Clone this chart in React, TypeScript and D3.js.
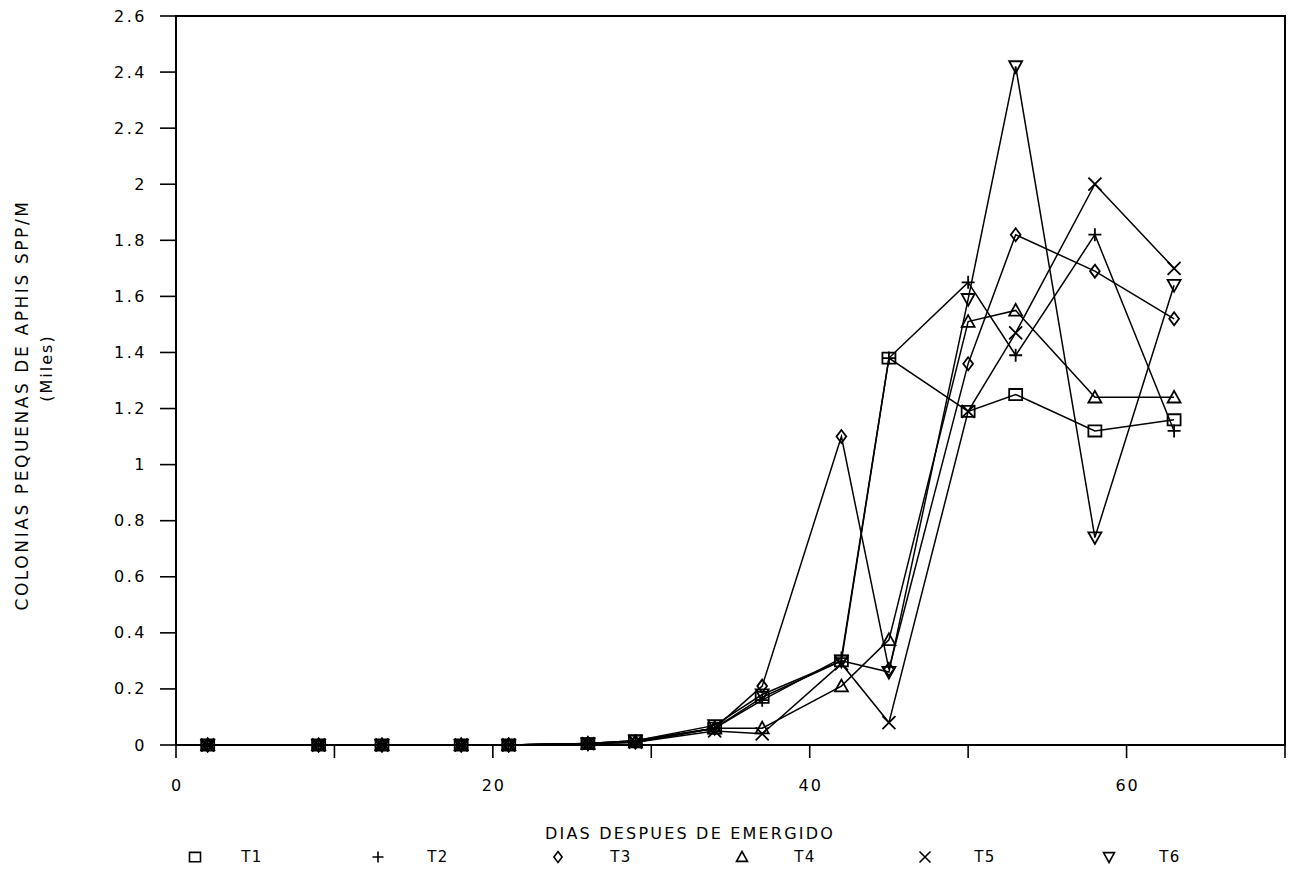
import React from "react";
import * as d3 from "d3";

const days = [2, 9, 13, 18, 21, 26, 29, 34, 37, 42, 45, 50, 53, 58, 63];
const t1 = [0, 0, 0, 0, 0, 0.005, 0.015, 0.06, 0.17, 0.30, 1.38, 1.19, 1.25, 1.12, 1.16];
const t2 = [0, 0, 0, 0, 0, 0.005, 0.015, 0.06, 0.16, 0.31, 1.38, 1.65, 1.39, 1.82, 1.12];
const t3 = [0, 0, 0, 0, 0, 0.005, 0.01, 0.06, 0.21, 1.10, 0.27, 1.36, 1.82, 1.69, 1.52];
const t4 = [0, 0, 0, 0, 0, 0.005, 0.01, 0.06, 0.06, 0.21, 0.375, 1.51, 1.55, 1.24, 1.24];
const t5 = [0, 0, 0, 0, 0, 0.005, 0.01, 0.05, 0.04, 0.29, 0.08, 1.19, 1.47, 2.0, 1.70];
const t6 = [0, 0, 0, 0, 0, 0.005, 0.015, 0.07, 0.18, 0.30, 0.26, 1.59, 2.42, 0.74, 1.64];

const seriesNames = ["T1", "T2", "T3", "T4", "T5", "T6"];
const seriesValues = [t1, t2, t3, t4, t5, t6];
const markerKinds = ["square", "plus", "diamond", "triangle", "cross", "triangleDown"];

const yTicks = [0, 0.2, 0.4, 0.6, 0.8, 1, 1.2, 1.4, 1.6, 1.8, 2, 2.2, 2.4, 2.6];
const yTickLabels = ["0", "0.2", "0.4", "0.6", "0.8", "1", "1.2", "1.4", "1.6", "1.8", "2", "2.2", "2.4", "2.6"];
const xTicks = [0, 10, 20, 30, 40, 50, 60, 70];
const xTickLabels = ["0", "", "20", "", "40", "", "60", ""];

const xTitle = "DIAS DESPUES DE EMERGIDO";
const yTitle = "COLONIAS PEQUENAS DE APHIS SPP/M";
const yTitle2 = "(Miles)";

const FONT = "'DejaVu Sans', sans-serif";

function markerPath(kind: string, s: number): string {
  const h = s / 2;
  switch (kind) {
    case "square":
      return `M${-h},${-h * 0.85}H${h}V${h * 0.85}H${-h}Z`;
    case "plus":
      return `M${-h},0H${h}M0,${-h}V${h}`;
    case "diamond":
      return `M0,${-h}L${h * 0.75},0L0,${h}L${-h * 0.75},0Z`;
    case "triangle":
      return `M0,${-h}L${h},${h * 0.8}L${-h},${h * 0.8}Z`;
    case "cross":
      return `M${-h},${-h}L${h},${h}M${h},${-h}L${-h},${h}`;
    case "triangleDown":
      return `M0,${h}L${h},${-h * 0.8}L${-h},${-h * 0.8}Z`;
  }
  return "";
}

export default function App() {
  const W = 1292;
  const H = 873;
  const x = d3.scaleLinear().domain([0, 70]).range([176, 1285]);
  const y = d3.scaleLinear().domain([0, 2.6]).range([745, 16]);
  const line = d3
    .line<number>()
    .x((_, i) => x(days[i]))
    .y((d) => y(d));

  const legendMarkerX = [195, 378, 558, 742, 925, 1109];
  const legendTextX = [252, 438, 621, 805, 985, 1170];

  return (
    <svg
      width={W}
      height={H}
      style={{ position: "absolute", left: 0, top: 0, background: "#fff" }}
      fontFamily={FONT}
    >
      <rect x={0} y={0} width={W} height={H} fill="#fff" />
      {/* frame */}
      <rect
        x={x(0)}
        y={y(2.6)}
        width={x(70) - x(0)}
        height={y(0) - y(2.6)}
        fill="none"
        stroke="#000"
        strokeWidth={2}
      />
      {/* y ticks */}
      {yTicks.map((t, i) => (
        <g key={"yt" + i}>
          <line x1={x(0) - 16} x2={x(0)} y1={y(t)} y2={y(t)} stroke="#000" strokeWidth={1.6} />
          <text
            x={147}
            y={y(t)}
            textAnchor="end"
            dominantBaseline="central"
            fontSize={16}
            letterSpacing={2.5}
            fill="#000"
          >
            {yTickLabels[i]}
          </text>
        </g>
      ))}
      {/* x ticks */}
      {xTicks.map((t, i) => (
        <g key={"xt" + i}>
          <line x1={x(t)} x2={x(t)} y1={y(0)} y2={y(0) + 13} stroke="#000" strokeWidth={1.6} />
          {xTickLabels[i] !== "" && (
            <text x={x(t) + 1} y={791} textAnchor="middle" fontSize={16} letterSpacing={2} fill="#000">
              {xTickLabels[i]}
            </text>
          )}
        </g>
      ))}
      {/* axis titles */}
      <text x={690} y={839} textAnchor="middle" fontSize={16} letterSpacing={2.2} fill="#000">
        {xTitle}
      </text>
      <text
        transform={`translate(28,405) rotate(-90)`}
        textAnchor="middle"
        fontSize={17}
        letterSpacing={2.6}
        fill="#000"
      >
        {yTitle}
      </text>
      <text
        transform={`translate(52,368) rotate(-90)`}
        textAnchor="middle"
        fontSize={16}
        letterSpacing={2}
        fill="#000"
      >
        {yTitle2}
      </text>
      {/* series */}
      {seriesValues.map((vals, si) => (
        <path key={"l" + si} d={line(vals) || ""} fill="none" stroke="#000" strokeWidth={1.5} />
      ))}
      {seriesValues.map((vals, si) => (
        <g key={"m" + si}>
          {vals.map((v, i) => (
            <path
              key={i}
              transform={`translate(${x(days[i])},${y(v)})`}
              d={markerPath(markerKinds[si], 13)}
              fill="none"
              stroke="#000"
              strokeWidth={1.8}
            />
          ))}
        </g>
      ))}
      {/* legend */}
      {seriesNames.map((n, i) => (
        <g key={"lg" + i}>
          <path
            transform={`translate(${legendMarkerX[i]},857)`}
            d={markerPath(markerKinds[i], 11)}
            fill="none"
            stroke="#000"
            strokeWidth={1.6}
          />
          <text x={legendTextX[i]} y={857} dominantBaseline="central" textAnchor="middle" fontSize={15} letterSpacing={1.5} fill="#000">
            {n}
          </text>
        </g>
      ))}
    </svg>
  );
}
